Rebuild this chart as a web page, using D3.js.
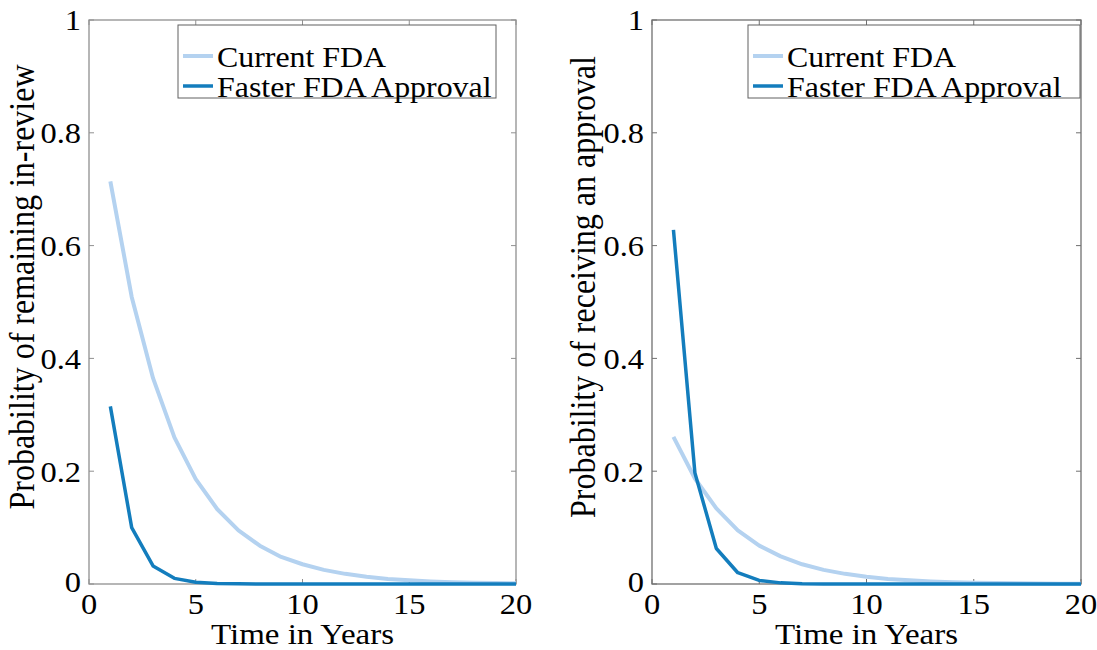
<!DOCTYPE html>
<html>
<head>
<meta charset="utf-8">
<script src="https://cdn.jsdelivr.net/npm/d3@7"></script>
<style>
  html, body { margin: 0; padding: 0; background: #fff; }
  svg { display: block; }
  text { font-family: "Liberation Serif", "Times New Roman", serif; fill: #000; }
</style>
</head>
<body>
<svg id="chart" width="1097" height="650"></svg>
<script>
// ---- data ----
const years = [1,2,3,4,5,6,7,8,9,10,11,12,13,14,15,16,17,18,19,20];
const reviewCurrent = [0.714,0.509,0.365,0.260,0.186,0.133,0.095,0.068,0.048,0.035,0.025,0.018,0.0127,0.009,0.0065,0.0046,0.0033,0.0024,0.0017,0.0012];
const reviewFaster  = [0.315,0.100,0.032,0.010,0.0032,0.001,0.0003,0.0001,0,0,0,0,0,0,0,0,0,0,0,0];
const approvalCurrent = [0.261,0.187,0.134,0.095,0.068,0.049,0.035,0.025,0.018,0.013,0.009,0.0065,0.0046,0.0033,0.0024,0.0017,0.0012,0.0009,0.0006,0.0004];
const approvalFaster  = [0.628,0.197,0.063,0.020,0.0063,0.002,0.0006,0.0002,0.0001,0,0,0,0,0,0,0,0,0,0,0];
const xTicks = [0,5,10,15,20];
const yTicks = [0,0.2,0.4,0.6,0.8,1];
const seriesNames = ["Current FDA","Faster FDA Approval"];
const panelLabels = ["Probability of remaining in-review","Probability of receiving an approval"];
const xLabel = "Time in Years";

const colors = ["#b4d2f0", "#137dbd"];
const widths = [4, 3.5];
const sx = 1.1; // horizontal stretch of glyphs seen in the reference

const svg = d3.select("#chart");

const panels = [
  { left: 89, right: 516, labelX: 34, legend: {x: 178, w: 318}, series: [reviewCurrent, reviewFaster], label: panelLabels[0], spine: "#909090" },
  { left: 652, right: 1081, labelX: 595, legend: {x: 748, w: 332}, series: [approvalCurrent, approvalFaster], label: panelLabels[1], spine: "#707070" }
];
const plotTop = 20, plotBottom = 584;

panels.forEach(p => {
  const x = d3.scaleLinear().domain([0,20]).range([p.left, p.right]);
  const y = d3.scaleLinear().domain([0,1]).range([plotBottom, plotTop]);
  const g = svg.append("g");

  // box
  g.append("rect").attr("x", p.left).attr("y", plotTop)
    .attr("width", p.right - p.left).attr("height", plotBottom - plotTop)
    .attr("fill", "none").attr("stroke", p.spine).attr("stroke-width", 1.3);

  // inward ticks on all four sides
  const tl = 5;
  xTicks.forEach(t => {
    g.append("line").attr("x1", x(t)).attr("x2", x(t)).attr("y1", plotBottom).attr("y2", plotBottom - tl).attr("stroke", p.spine);
    g.append("line").attr("x1", x(t)).attr("x2", x(t)).attr("y1", plotTop).attr("y2", plotTop + tl).attr("stroke", p.spine);
  });
  yTicks.forEach(t => {
    g.append("line").attr("x1", p.left).attr("x2", p.left + tl).attr("y1", y(t)).attr("y2", y(t)).attr("stroke", p.spine);
    g.append("line").attr("x1", p.right).attr("x2", p.right - tl).attr("y1", y(t)).attr("y2", y(t)).attr("stroke", p.spine);
  });

  // tick labels
  g.selectAll(".xt").data(xTicks).enter().append("text")
    .attr("transform", d => `translate(${x(d)},614) scale(${sx},1)`)
    .attr("text-anchor", "middle").attr("font-size", 29.5)
    .text(d => d);
  g.selectAll(".yt").data(yTicks).enter().append("text")
    .attr("transform", d => `translate(${p.left - 8},${y(d) - (d === 0 ? 2 : 0)}) scale(${sx},1)`)
    .attr("dy", "0.35em")
    .attr("text-anchor", "end").attr("font-size", 29.5)
    .text(d => d);

  // axis labels
  g.append("text")
    .attr("transform", `translate(${(p.left + p.right) / 2},644) scale(${sx},1)`)
    .attr("text-anchor", "middle").attr("font-size", 30).text(xLabel);
  g.append("text")
    .attr("transform", `translate(${p.labelX},287) rotate(-90) scale(1,${sx})`)
    .attr("text-anchor", "middle").attr("font-size", 32).text(p.label);

  // lines
  const line = d3.line().x((d, i) => x(years[i])).y(d => y(d));
  p.series.forEach((s, k) => {
    g.append("path").datum(s).attr("d", line)
      .attr("fill", "none").attr("stroke", colors[k]).attr("stroke-width", widths[k])
      .attr("stroke-linejoin", "round");
  });

  // legend
  const lg = g.append("g");
  lg.append("rect").attr("x", p.legend.x).attr("y", 25).attr("width", p.legend.w).attr("height", 73)
    .attr("fill", "#fff").attr("stroke", "#606060").attr("stroke-width", 1);
  seriesNames.forEach((n, k) => {
    const cy = 56 + k * 30;
    lg.append("line").attr("x1", p.legend.x + 5).attr("x2", p.legend.x + 35)
      .attr("y1", cy).attr("y2", cy).attr("stroke", colors[k]).attr("stroke-width", widths[k]);
    lg.append("text")
      .attr("transform", `translate(${p.legend.x + 39},${cy + 11}) scale(${sx},1)`)
      .attr("font-size", 29).text(n);
  });
});
</script>
</body>
</html>
